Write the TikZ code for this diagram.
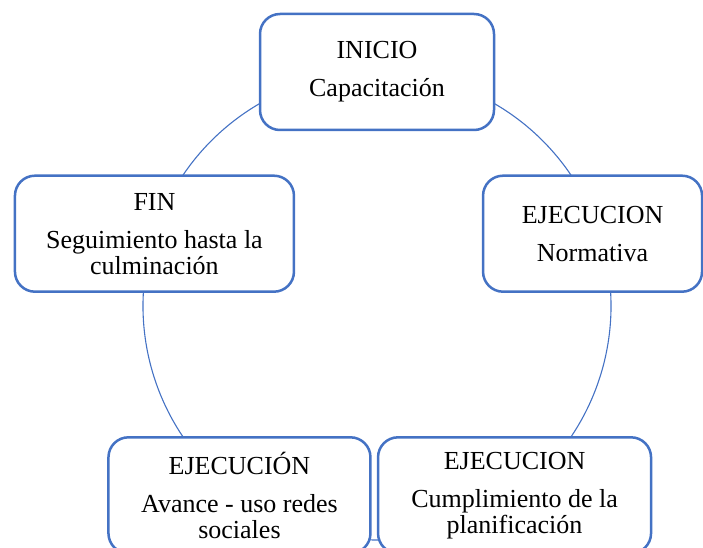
\documentclass[tikz,border=0pt]{standalone}
\usepackage{fontspec}
\setmainfont{Liberation Serif}
\usepackage{tikz}
\usetikzlibrary{calc, positioning, backgrounds}
\definecolor{smartblue}{HTML}{4472C4}

\begin{document}
\begin{tikzpicture}[x=1pt,y=1pt,semithick,
        font=\fontsize{26pt}{26pt}\selectfont]
        \tikzstyle{phase}=[draw=smartblue,line width=2.5pt,fill=white,rounded corners=20pt,
                minimum height=116pt,align=center,inner sep=2pt,text=black]
        \tikzstyle{cyc}=[draw=smartblue,line width=1.1pt]
        \clip (0,0) rectangle (703,547);
        \def\R{234pt}
        \coordinate (o) at (377,241);
        \coordinate (p1) at ($(o)+(90:\R)$);
        \coordinate (p2) at ($(o)+(18:\R)$);
        \coordinate (p3) at ($(o)+(-54:\R)$);
        \coordinate (p4) at ($(o)+(-126:\R)$);
        \coordinate (p5) at ($(o)+(162:\R)$);
        \node[phase,minimum width=234pt](ini) at (p1){INICIO\\[12pt]Capacitación};
        \node[phase,minimum width=219pt,xshift=-7pt](norm) at (p2){EJECUCION\\[12pt]Normativa};
        \node[phase,minimum width=273pt](cump) at (p3){EJECUCION\\[12pt]Cumplimiento de la\\planificación};
        \node[phase,minimum width=262pt](avan) at (p4){EJECUCIÓN\\[12pt]Avance - uso redes\\sociales};
        \node[phase,minimum width=279pt](fin) at (p5){FIN\\[12pt]Seguimiento hasta la\\culminación};
        % cycle arcs behind the boxes
        \begin{scope}[on background layer]
        \draw[cyc] (p1) arc[start angle=90,end angle=18,radius=\R];
        \draw[cyc] (p2) arc[start angle=18,end angle=-54,radius=\R];
        \draw[cyc] (p3) arc[start angle=-54,end angle=-126,radius=\R];
        \draw[cyc] (p4) arc[start angle=-126,end angle=-198,radius=\R];
        \draw[cyc] (p5) arc[start angle=162,end angle=90,radius=\R];
        \end{scope}
\end{tikzpicture}
\end{document}
